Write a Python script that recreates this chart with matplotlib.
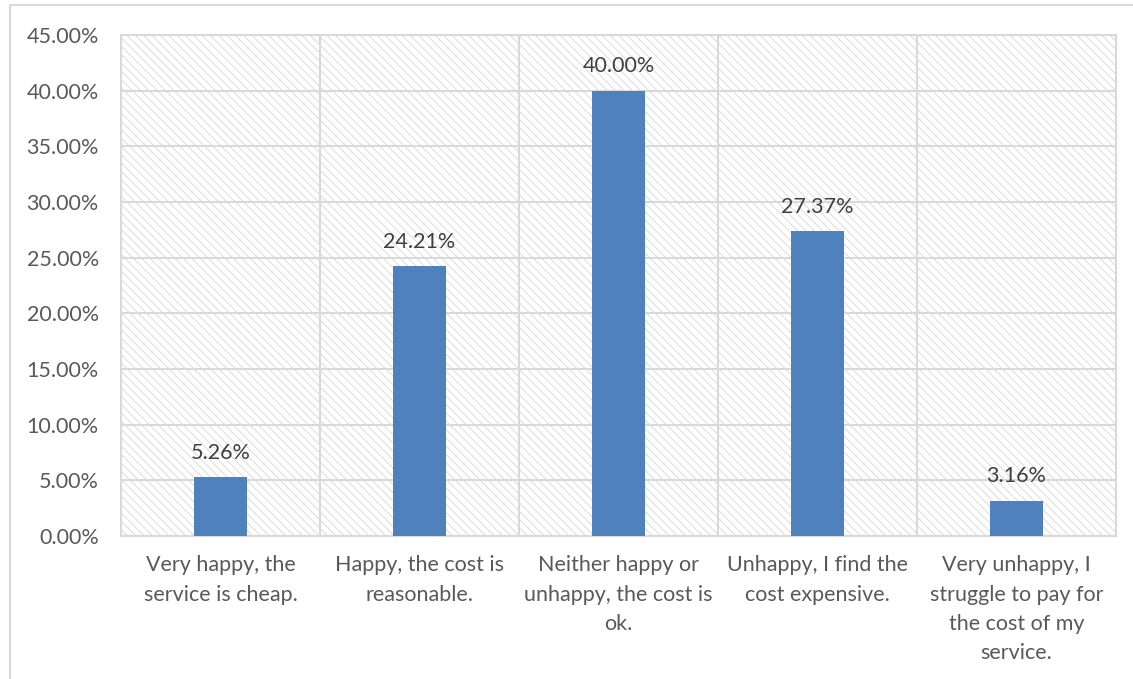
import matplotlib
matplotlib.use('Agg')
import matplotlib.pyplot as plt
from matplotlib.patches import Rectangle
from matplotlib.ticker import MultipleLocator, FuncFormatter

categories = ['Very happy, the\nservice is cheap.',
              'Happy, the cost is\nreasonable.',
              'Neither happy or\nunhappy, the cost is\nok.',
              'Unhappy, I find the\ncost expensive.',
              'Very unhappy, I\nstruggle to pay for\nthe cost of my\nservice.']
values = [5.26, 24.21, 40.00, 27.37, 3.16]

BAR_COLOR = '#4F81BD'
GRID_COLOR = '#D9D9D9'
TEXT_COLOR = '#595959'

plt.rcParams['font.family'] = ['Lato', 'DejaVu Sans']
plt.rcParams['hatch.color'] = '#D6D6D6'
plt.rcParams['hatch.linewidth'] = 0.6

fig = plt.figure(figsize=(11.33, 6.79), dpi=100)
ax = fig.add_axes([0.1068, 0.2106, 0.985 - 0.1068, 0.9485 - 0.2106])

# hatched plot background
ax.add_patch(Rectangle((0, 0), 1, 1, transform=ax.transAxes, facecolor='white',
                       hatch='\\\\\\\\', edgecolor='#D6D6D6', linewidth=0, zorder=0))

x = list(range(len(values)))
ax.bar(x, values, width=0.27, color=BAR_COLOR, zorder=3)
for xi, v in zip(x, values):
    ax.text(xi, v + 1.3, f'{v:.2f}%', ha='center', va='bottom',
            fontsize=15.5, color='#404040', zorder=4)

ax.set_xlim(-0.5, len(values) - 0.5)
ax.set_ylim(0, 45)
ax.yaxis.set_major_locator(MultipleLocator(5))
ax.yaxis.set_major_formatter(FuncFormatter(lambda v, p: f'{v:.2f}%'))
ax.set_xticks(x)
ax.set_xticklabels(categories, fontsize=15.5, color=TEXT_COLOR, linespacing=1.58)
ax.tick_params(axis='y', labelsize=15.5, labelcolor=TEXT_COLOR, length=0, pad=16)
ax.tick_params(axis='x', length=0, pad=14)

# grid: horizontal at every 5%, vertical at category boundaries
ax.set_axisbelow(True)
ax.grid(axis='y', color=GRID_COLOR, linewidth=1.5, zorder=1)
for b in range(1, len(values)):
    ax.axvline(b - 0.5, color=GRID_COLOR, linewidth=1.5, zorder=1)
for s in ax.spines.values():
    s.set_color(GRID_COLOR)
    s.set_linewidth(1.5)

# outer chart frame (left and top edges visible)
fig.add_artist(plt.Line2D([0.0085, 0.0085], [0, 0.993], color=GRID_COLOR, linewidth=1.5,
                          transform=fig.transFigure))
fig.add_artist(plt.Line2D([0.0085, 1], [0.993, 0.993], color=GRID_COLOR, linewidth=1.5,
                          transform=fig.transFigure))

fig.savefig('out.png', dpi=100)
